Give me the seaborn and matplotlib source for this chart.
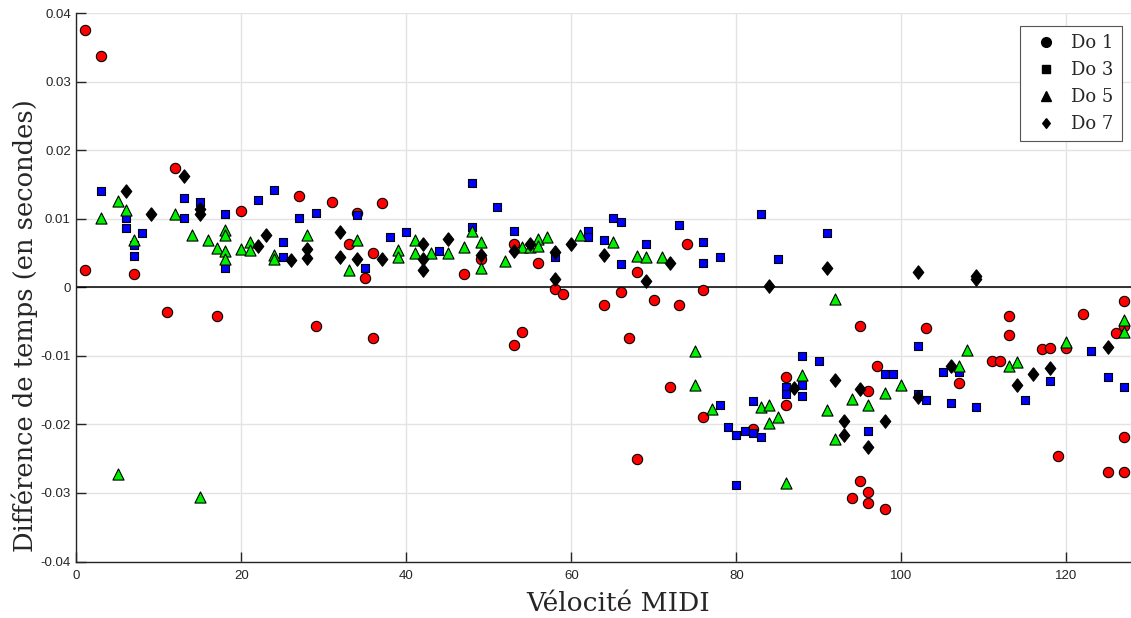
import matplotlib
matplotlib.use("Agg")
import matplotlib.pyplot as plt
from matplotlib.lines import Line2D
import pandas as pd
import seaborn as sns

# Timing difference (s) per MIDI velocity, for four notes
do1_vel = [1, 1, 3, 7, 11, 12, 17, 20, 27, 29, 31, 33, 34, 35, 36, 36, 37, 47, 49, 53,
           53, 54, 56, 58, 59, 64, 66, 67, 68, 68, 70, 72, 73, 74, 76, 76, 82, 86, 86, 94,
           95, 95, 96, 96, 96, 97, 98, 103, 107, 111, 112, 113, 113, 117, 118, 119, 120, 122,
           125, 126, 127, 127, 127, 127]
do1_diff = [0.0375, 0.0025, 0.0337, 0.0020, -0.0036, 0.0174, -0.0042, 0.0112, 0.0134, -0.0057,
            0.0125, 0.0063, 0.0109, 0.0013, 0.0050, -0.0074, 0.0123, 0.0019, 0.0041, 0.0064,
            -0.0084, -0.0065, 0.0035, -0.0003, -0.0010, -0.0025, -0.0006, -0.0074, 0.0022, -0.0250,
            -0.0018, -0.0145, -0.0026, 0.0063, -0.0004, -0.0189, -0.0206, -0.0131, -0.0172, -0.0307,
            -0.0057, -0.0283, -0.0151, -0.0298, -0.0314, -0.0114, -0.0324, -0.0059, -0.0140, -0.0107,
            -0.0107, -0.0042, -0.0070, -0.0090, -0.0088, -0.0246, -0.0088, -0.0039, -0.0269, -0.0067,
            -0.0020, -0.0057, -0.0218, -0.0269]

do3_vel = [3, 6, 6, 7, 7, 8, 13, 13, 15, 18, 18, 22, 24, 25, 25, 27, 29, 34, 35, 38,
           40, 44, 48, 48, 51, 53, 58, 62, 62, 64, 65, 66, 66, 69, 73, 76, 76, 78, 78, 79,
           80, 80, 81, 82, 82, 83, 83, 85, 86, 86, 88, 88, 88, 90, 91, 96, 98, 99, 102, 102,
           103, 105, 106, 107, 109, 115, 118, 123, 125, 127]
do3_diff = [0.0140, 0.0102, 0.0087, 0.0062, 0.0046, 0.0080, 0.0130, 0.0102, 0.0125, 0.0107,
            0.0028, 0.0127, 0.0142, 0.0066, 0.0045, 0.0101, 0.0109, 0.0106, 0.0028, 0.0073,
            0.0081, 0.0053, 0.0152, 0.0088, 0.0117, 0.0083, 0.0045, 0.0083, 0.0073, 0.0069,
            0.0102, 0.0095, 0.0034, 0.0064, 0.0091, 0.0066, 0.0036, 0.0045, -0.0171, -0.0203,
            -0.0215, -0.0288, -0.0209, -0.0166, -0.0212, 0.0107, -0.0218, 0.0041, -0.0145, -0.0156,
            -0.0100, -0.0142, -0.0159, -0.0107, 0.0080, -0.0210, -0.0126, -0.0126, -0.0086, -0.0155,
            -0.0165, -0.0123, -0.0169, -0.0123, -0.0174, -0.0164, -0.0137, -0.0093, -0.0131, -0.0146]

do5_vel = [3, 5, 5, 6, 7, 12, 14, 15, 16, 17, 18, 18, 18, 18, 20, 21, 21, 24, 24, 28,
           33, 34, 39, 39, 41, 41, 43, 45, 47, 48, 49, 49, 52, 54, 55, 56, 56, 57, 61, 65,
           68, 69, 71, 75, 75, 77, 83, 84, 84, 85, 86, 88, 91, 92, 92, 94, 96, 98, 100, 107,
           108, 113, 114, 120, 127, 127]
do5_diff = [0.0101, 0.0126, -0.0273, 0.0113, 0.0069, 0.0107, 0.0076, -0.0306, 0.0069, 0.0057,
            0.0084, 0.0076, 0.0053, 0.0042, 0.0056, 0.0066, 0.0054, 0.0048, 0.0042, 0.0076,
            0.0026, 0.0069, 0.0054, 0.0044, 0.0069, 0.0050, 0.0050, 0.0050, 0.0059, 0.0082,
            0.0066, 0.0029, 0.0039, 0.0059, 0.0059, 0.0070, 0.0061, 0.0074, 0.0076, 0.0066,
            0.0046, 0.0045, 0.0044, -0.0093, -0.0142, -0.0178, -0.0174, -0.0171, -0.0198, -0.0189,
            -0.0285, -0.0128, -0.0179, -0.0017, -0.0221, -0.0163, -0.0171, -0.0154, -0.0142, -0.0115,
            -0.0091, -0.0115, -0.0109, -0.0080, -0.0047, -0.0065]

do7_vel = [6, 9, 13, 15, 15, 22, 23, 26, 28, 28, 32, 32, 34, 37, 42, 42, 42, 45, 49, 53,
           55, 58, 58, 60, 64, 69, 72, 84, 87, 91, 92, 93, 93, 95, 96, 98, 102, 102, 106, 109,
           109, 114, 116, 118, 125]
do7_diff = [0.0140, 0.0107, 0.0162, 0.0114, 0.0107, 0.0061, 0.0076, 0.0040, 0.0056, 0.0043,
            0.0081, 0.0044, 0.0042, 0.0042, 0.0063, 0.0041, 0.0025, 0.0070, 0.0047, 0.0053,
            0.0063, 0.0051, 0.0012, 0.0063, 0.0048, 0.0009, 0.0035, 0.0002, -0.0147, 0.0028,
            -0.0135, -0.0195, -0.0216, -0.0148, -0.0233, -0.0195, 0.0022, -0.0160, -0.0115, 0.0016,
            0.0012, -0.0142, -0.0126, -0.0117, -0.0087]

series_names = ["Do 1", "Do 3", "Do 5", "Do 7"]
x_ticks = [0, 20, 40, 60, 80, 100, 120]
y_ticks = [-0.04, -0.03, -0.02, -0.01, 0, 0.01, 0.02, 0.03, 0.04]
y_tick_labels = ["-0.04", "-0.03", "-0.02", "-0.01", "0", "0.01", "0.02", "0.03", "0.04"]

sns.set_theme(style="white")
plt.rcParams["axes.unicode_minus"] = False

diamond = [(0, 1), (0.78, 0), (0, -1), (-0.78, 0), (0, 1)]
styles = {
    "Do 1": dict(color="#ff0000", marker="o", s=55),
    "Do 3": dict(color="#0000ff", marker="s", s=38),
    "Do 5": dict(color="#00f000", marker="^", s=64),
    "Do 7": dict(color="#000000", marker=diamond, s=95),
}
frames = {
    "Do 1": pd.DataFrame({"vel": do1_vel, "diff": do1_diff}),
    "Do 3": pd.DataFrame({"vel": do3_vel, "diff": do3_diff}),
    "Do 5": pd.DataFrame({"vel": do5_vel, "diff": do5_diff}),
    "Do 7": pd.DataFrame({"vel": do7_vel, "diff": do7_diff}),
}

fig = plt.figure(figsize=(11.31, 6.18), dpi=100)
ax = fig.add_axes([0.0675, 0.0914, 0.9337, 0.8871])

ax.axhline(0, color="black", lw=1.1, zorder=1.5)
for name in series_names:
    st = styles[name]
    sns.scatterplot(data=frames[name], x="vel", y="diff", ax=ax, color=st["color"],
                    marker=st["marker"], s=st["s"], edgecolor="black", linewidth=0.8,
                    zorder=3, legend=False)

ax.set_xlim(0, 128)
ax.set_ylim(-0.04, 0.04)
ax.set_xticks(x_ticks)
ax.set_xticklabels([str(t) for t in x_ticks])
ax.set_yticks(y_ticks)
ax.set_yticklabels(y_tick_labels)
ax.grid(True, color="#e3e3e3", lw=1.0)
ax.set_axisbelow(True)

for side in ("top", "right"):
    ax.spines[side].set_visible(False)
for side in ("left", "bottom"):
    ax.spines[side].set_color("#262626")
    ax.spines[side].set_linewidth(1.0)
ax.tick_params(axis="both", direction="in", length=7, width=1.0, color="#262626",
               labelsize=9.5, labelcolor="#262626", left=True, bottom=True)
ax.tick_params(axis="x", pad=6)
ax.tick_params(axis="y", pad=4)
for lab in ax.get_xticklabels() + ax.get_yticklabels():
    lab.set_family("Liberation Sans")

ax.set_xlabel("Vélocité MIDI", family="DejaVu Serif", fontsize=19, color="#262626")
ax.xaxis.set_label_coords(0.5135, -0.054)
ax.set_ylabel("Différence de temps (en secondes)", family="DejaVu Serif", fontsize=18.5,
              color="#262626")
ax.yaxis.set_label_coords(-0.036, 0.43)

handles = []
for name in series_names:
    st = styles[name]
    handles.append(Line2D([], [], linestyle="none", marker=st["marker"], color="black",
                          markersize=7 if name != "Do 3" else 6))
leg = ax.legend(handles, series_names, loc="upper right", bbox_to_anchor=(0.990, 0.977),
                borderaxespad=0, prop={"family": "DejaVu Serif", "size": 13}, frameon=True,
                fancybox=False, framealpha=1, edgecolor="#555555", handlelength=2.0,
                handletextpad=0.4, labelspacing=0.5, borderpad=0.45)
leg.get_frame().set_linewidth(0.8)

fig.savefig("out.png", dpi=100)
